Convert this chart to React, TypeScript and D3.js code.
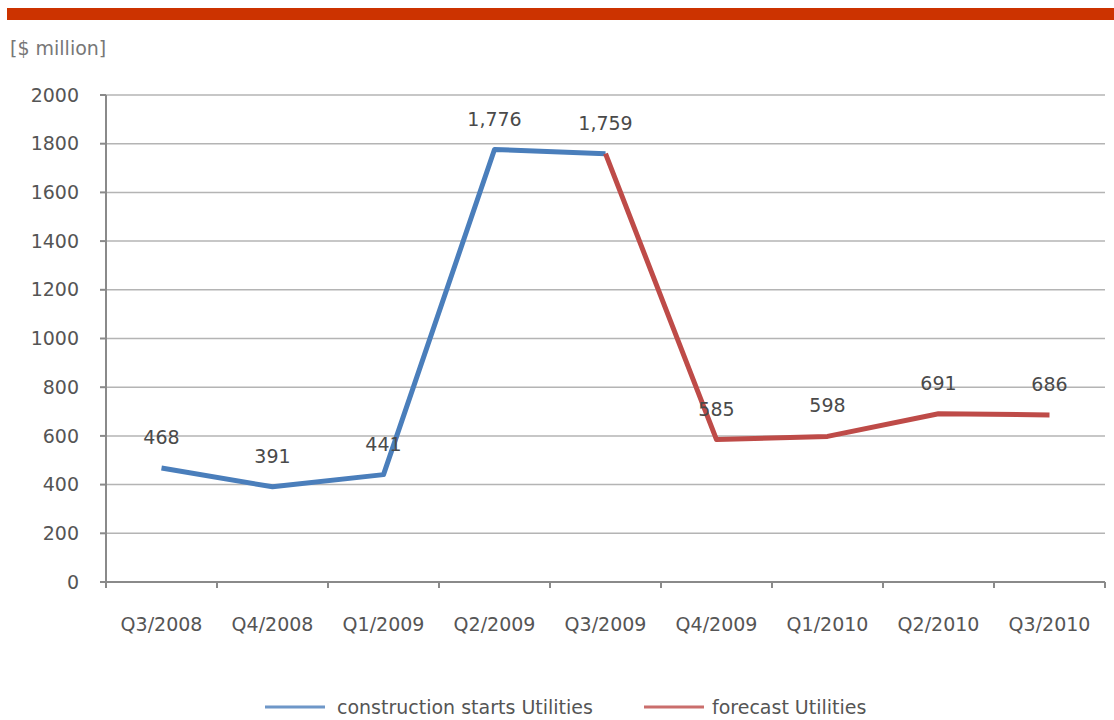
import { useMemo } from 'react'
import * as d3 from 'd3'

// Quarterly categories and series values ($ million)
const QUARTERS = ['Q3/2008', 'Q4/2008', 'Q1/2009', 'Q2/2009', 'Q3/2009', 'Q4/2009', 'Q1/2010', 'Q2/2010', 'Q3/2010']
const ACTUAL = [
  { q: 'Q3/2008', v: 468 },
  { q: 'Q4/2008', v: 391 },
  { q: 'Q1/2009', v: 441 },
  { q: 'Q2/2009', v: 1776 },
  { q: 'Q3/2009', v: 1759 },
]
const FORECAST = [
  { q: 'Q3/2009', v: 1759 },
  { q: 'Q4/2009', v: 585 },
  { q: 'Q1/2010', v: 598 },
  { q: 'Q2/2010', v: 691 },
  { q: 'Q3/2010', v: 686 },
]
const Y_TICKS = [0, 200, 400, 600, 800, 1000, 1200, 1400, 1600, 1800, 2000]

const BLUE = '#4a7ebb'
const RED = '#be4b48'
const FONT = 'DejaVu Sans, sans-serif'

function App() {
  const width = 1114
  const height = 720
  const margin = { top: 95, right: 9, bottom: 138, left: 106 }
  const innerWidth = width - margin.left - margin.right
  const innerHeight = height - margin.top - margin.bottom

  const x = useMemo(() => d3.scaleBand().domain(QUARTERS).range([0, innerWidth]), [innerWidth])
  const y = useMemo(() => d3.scaleLinear().domain([0, 2000]).range([innerHeight, 0]), [innerHeight])
  const cx = (q: string) => (x(q) ?? 0) + x.bandwidth() / 2

  const line = d3.line<{ q: string; v: number }>()
    .x(d => cx(d.q))
    .y(d => y(d.v))

  // one label per point, forecast skipping the shared first point
  const labels = [...ACTUAL, ...FORECAST.slice(1)]
  const boundaries = d3.range(QUARTERS.length + 1).map(i => i * x.bandwidth())

  return (
    <svg width={width} height={height} style={{ position: 'absolute', left: 0, top: 0, background: '#fff' }}>
      <rect x={7} y={8} width={width - 7} height={12} fill="#cc3300" />
      <text x={10} y={55} fontFamily={FONT} fontSize={19} fill="#777">[$ million]</text>

      <g transform={`translate(${margin.left},${margin.top})`}>
        {Y_TICKS.map(t => (
          <g key={t}>
            {t > 0 && (
              <line x1={0} x2={innerWidth} y1={y(t)} y2={y(t)} stroke="#b4b4b4" strokeWidth={1.5} />
            )}
            <line x1={-6} x2={0} y1={y(t)} y2={y(t)} stroke="#8a8a8a" strokeWidth={2} />
            <text x={-27} y={y(t)} dy="0.35em" textAnchor="end" fontFamily={FONT} fontSize={19} fill="#555">{t}</text>
          </g>
        ))}
        <line x1={0} x2={0} y1={0} y2={innerHeight} stroke="#8a8a8a" strokeWidth={2} />
        <line x1={0} x2={innerWidth} y1={innerHeight} y2={innerHeight} stroke="#8a8a8a" strokeWidth={2} />
        {boundaries.map((b, i) => (
          <line key={i} x1={b} x2={b} y1={innerHeight} y2={innerHeight + 6} stroke="#8a8a8a" strokeWidth={2} />
        ))}
        {QUARTERS.map(q => (
          <text key={q} x={cx(q)} y={innerHeight + 49} textAnchor="middle" fontFamily={FONT} fontSize={19} fill="#555">{q}</text>
        ))}

        <path d={line(ACTUAL) ?? ''} fill="none" stroke={BLUE} strokeWidth={5} strokeLinejoin="round" />
        <path d={line(FORECAST) ?? ''} fill="none" stroke={RED} strokeWidth={5} strokeLinejoin="round" />

        {labels.map(d => (
          <text key={d.q} x={cx(d.q)} y={y(d.v) - 24} textAnchor="middle" fontFamily={FONT} fontSize={19} fill="#4a4a4a">
            {d3.format(',')(d.v)}
          </text>
        ))}
      </g>

      <g transform="translate(0,707)" fontFamily={FONT} fontSize={19} fill="#555">
        <line x1={265} x2={325} y1={0} y2={0} stroke={BLUE} strokeWidth={3} opacity={0.8} />
        <text x={337} y={0} dy="0.35em">construction starts Utilities</text>
        <line x1={644} x2={704} y1={0} y2={0} stroke={RED} strokeWidth={3} opacity={0.8} />
        <text x={712} y={0} dy="0.35em">forecast Utilities</text>
      </g>
    </svg>
  )
}

export default App
